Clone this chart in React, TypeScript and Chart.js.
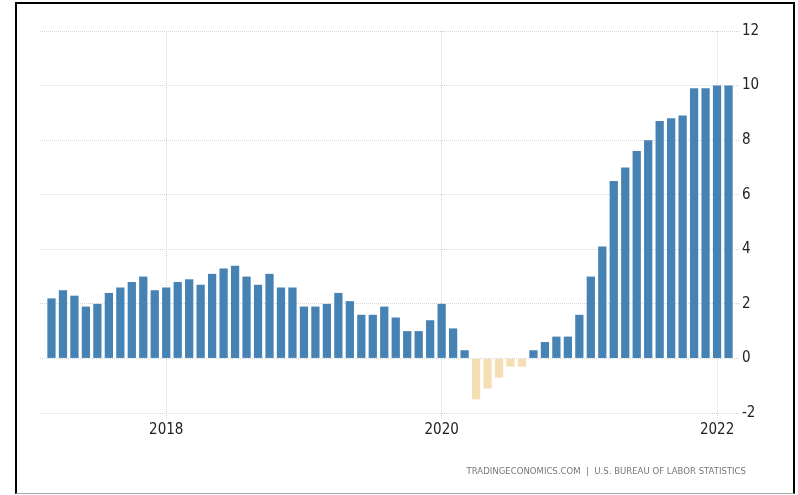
import React, { useEffect, useRef } from "react";
import { Chart, registerables } from "chart.js";

Chart.register(...registerables);

const months = [
  "Mar 2017", "Apr 2017", "May 2017", "Jun 2017", "Jul 2017", "Aug 2017", "Sep 2017", "Oct 2017", "Nov 2017", "Dec 2017",
  "Jan 2018", "Feb 2018", "Mar 2018", "Apr 2018", "May 2018", "Jun 2018", "Jul 2018", "Aug 2018", "Sep 2018", "Oct 2018", "Nov 2018", "Dec 2018",
  "Jan 2019", "Feb 2019", "Mar 2019", "Apr 2019", "May 2019", "Jun 2019", "Jul 2019", "Aug 2019", "Sep 2019", "Oct 2019", "Nov 2019", "Dec 2019",
  "Jan 2020", "Feb 2020", "Mar 2020", "Apr 2020", "May 2020", "Jun 2020", "Jul 2020", "Aug 2020", "Sep 2020", "Oct 2020", "Nov 2020", "Dec 2020",
  "Jan 2021", "Feb 2021", "Mar 2021", "Apr 2021", "May 2021", "Jun 2021", "Jul 2021", "Aug 2021", "Sep 2021", "Oct 2021", "Nov 2021", "Dec 2021",
  "Jan 2022", "Feb 2022",
];

const values = [
  2.2, 2.5, 2.3, 1.9, 2.0, 2.4, 2.6, 2.8, 3.0, 2.5,
  2.6, 2.8, 2.9, 2.7, 3.1, 3.3, 3.4, 3.0, 2.7, 3.1, 2.6, 2.6,
  1.9, 1.9, 2.0, 2.4, 2.1, 1.6, 1.6, 1.9, 1.5, 1.0, 1.0, 1.4,
  2.0, 1.1, 0.3, -1.5, -1.1, -0.7, -0.3, -0.3, 0.3, 0.6, 0.8, 0.8,
  1.6, 3.0, 4.1, 6.5, 7.0, 7.6, 8.0, 8.7, 8.8, 8.9, 9.9, 9.9,
  10.0, 10.0,
];

const xTickYears = ["2018", "2020", "2022"];
const yMin = -2;
const yMax = 12;
const yStep = 2;
const footerText = "TRADINGECONOMICS.COM  |  U.S. BUREAU OF LABOR STATISTICS";

const POS = "#4682b4";
const NEG = "#f5deb3";
const GRID = "#d6d6d6";
const FONT = "'Liberation Sans Narrow', 'DejaVu Sans Condensed', 'Liberation Sans', sans-serif";

export default function App() {
  const ref = useRef<HTMLCanvasElement | null>(null);

  useEffect(() => {
    if (!ref.current) return;
    const tickIdx = xTickYears.map((y) => months.indexOf("Jan " + y));
    const chart = new Chart(ref.current, {
      type: "bar",
      data: {
        datasets: [
          {
            data: values.map((v, i) => ({ x: i, y: v })),
            backgroundColor: values.map((v) => (v >= 0 ? POS : NEG)),
            borderWidth: 0,
            barPercentage: 0.72,
            categoryPercentage: 1,
          },
        ],
      },
      options: {
        animation: false,
        responsive: false,
        devicePixelRatio: 1,
        layout: { padding: { left: 40, top: 31, right: 0, bottom: 0 } },
        plugins: { legend: { display: false }, tooltip: { enabled: false } },
        scales: {
          x: {
            type: "linear",
            offset: false,
            min: -1,
            max: months.length,
            afterBuildTicks: (scale: any) => {
              scale.ticks = tickIdx.map((v) => ({ value: v }));
            },
            afterFit: (scale: any) => {
              scale.height = 82;
            },
            ticks: {
              autoSkip: false,
              maxRotation: 0,
              padding: 3,
              color: "#222",
              font: { family: FONT, size: 15 },
              callback: (value: any) => {
                const m = months[Number(value)];
                return m ? m.split(" ")[1] : "";
              },
            },
            grid: {
              offset: false,
              color: GRID,
              tickColor: GRID,
              tickLength: 5,
              drawTicks: true,
              tickBorderDash: [1, 1],
            },
            border: { display: false, dash: [1, 1] },
          },
          y: {
            position: "right",
            min: yMin,
            max: yMax,
            afterFit: (scale: any) => {
              scale.width = 58;
            },
            ticks: {
              stepSize: yStep,
              padding: 2,
              color: "#222",
              font: { family: FONT, size: 15 },
            },
            grid: { color: GRID, drawTicks: false },
            border: { display: false, dash: [1, 1] },
          },
        },
      },
    });
    return () => chart.destroy();
  }, []);

  return (
    <div style={{ position: "absolute", left: 0, top: 0, width: 798, height: 495, background: "#fff" }}>
      <div
        style={{
          position: "absolute",
          left: 15,
          top: 2,
          width: 776,
          height: 489,
          borderLeft: "2px solid #000",
          borderTop: "2px solid #000",
          borderRight: "2px solid #000",
          borderBottom: "1px solid #aaa",
        }}
      />
      <canvas ref={ref} width={798} height={495} style={{ position: "absolute", left: 0, top: 0 }} />
      <div
        style={{
          position: "absolute",
          right: 52,
          top: 465,
          fontFamily: "'DejaVu Sans Condensed', 'Liberation Sans', sans-serif",
          fontSize: 9.5,
          color: "#777",
          whiteSpace: "pre",
          letterSpacing: 0,
        }}
      >
        {footerText}
      </div>
    </div>
  );
}
